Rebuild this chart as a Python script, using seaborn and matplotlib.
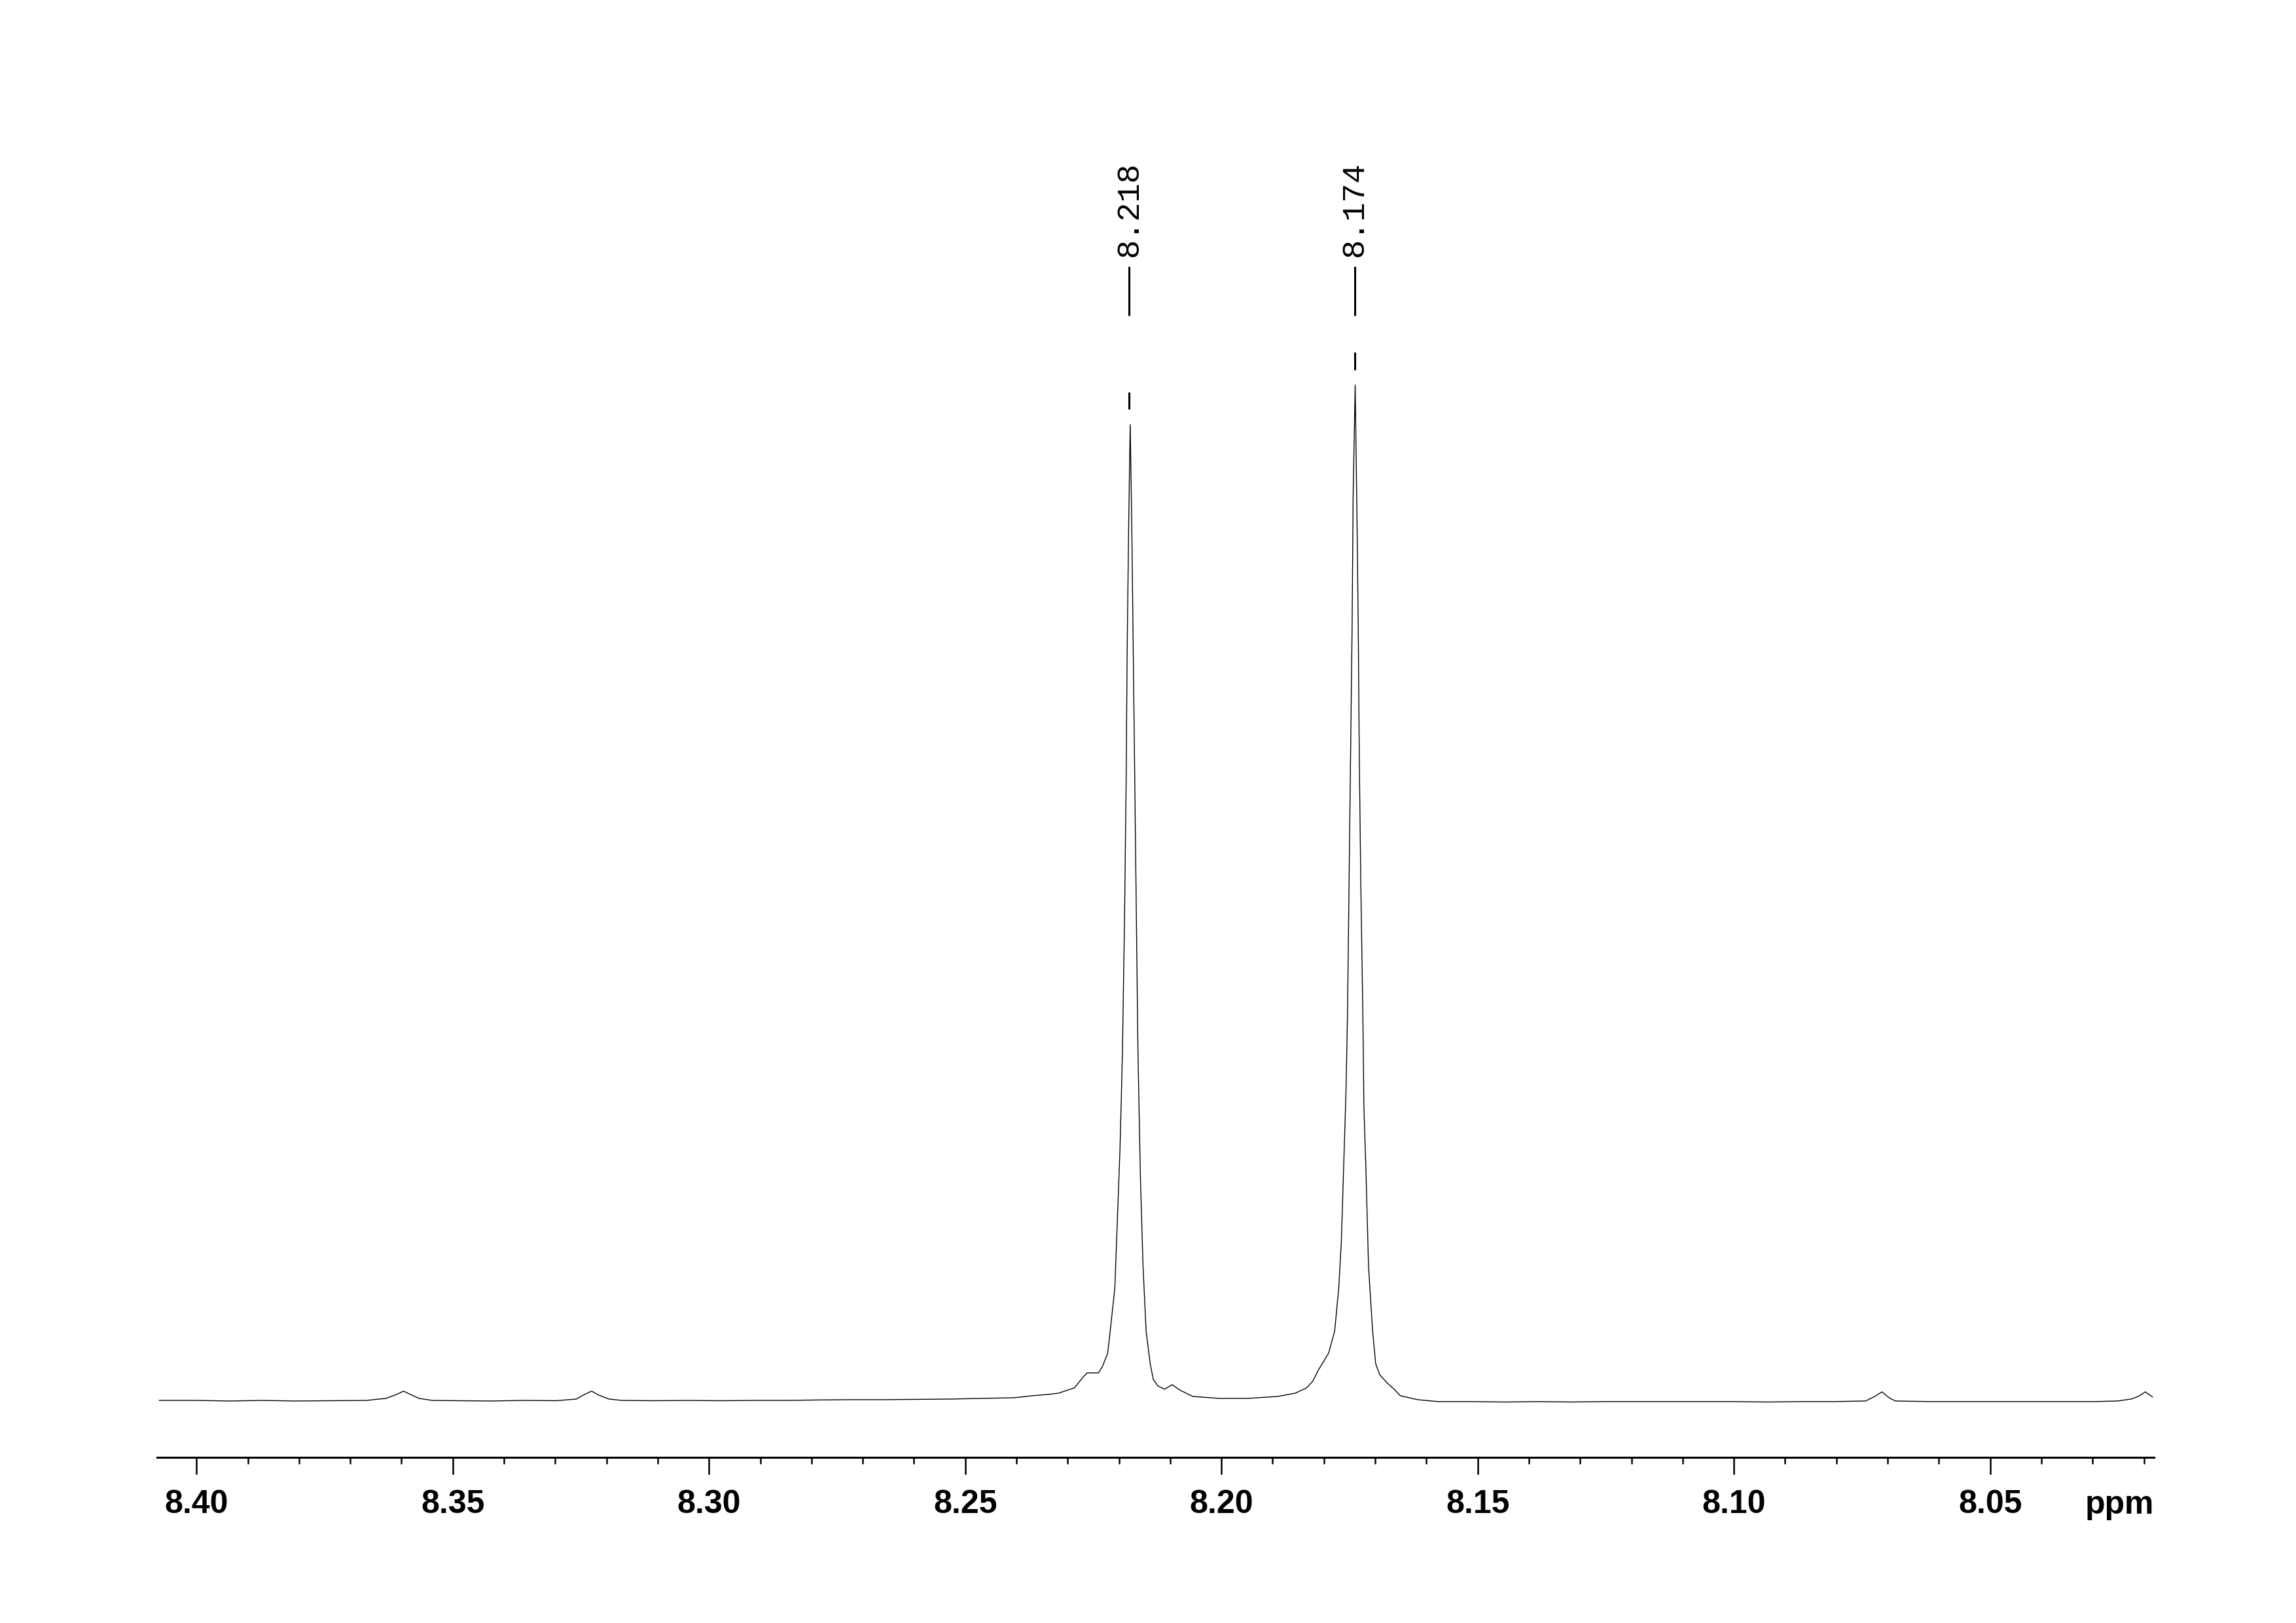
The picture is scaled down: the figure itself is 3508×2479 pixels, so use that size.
import numpy as np
import matplotlib
matplotlib.use("Agg")
import matplotlib.pyplot as plt
import seaborn as sns

# spectrum (ppm, relative intensity; tallest peak = 100)
ppm = [8.4073, 8.4000, 8.3936, 8.3872, 8.3808, 8.3745, 8.3668, 8.3630, 8.3610,
       8.3596, 8.3582, 8.3566, 8.3540, 8.3489, 8.3425, 8.3361, 8.3298, 8.3259,
       8.3243, 8.3229, 8.3215, 8.3195, 8.3170, 8.3106, 8.3042, 8.2978, 8.2914,
       8.2851, 8.2787, 8.2723, 8.2659, 8.2595, 8.2531, 8.2467, 8.2404, 8.2369,
       8.2340, 8.2318, 8.2287, 8.2269, 8.2262, 8.2240, 8.2232, 8.2222, 8.2217,
       8.2208, 8.2200, 8.2198, 8.2195, 8.2193, 8.2189, 8.2186, 8.2184, 8.2181,
       8.2178, 8.2175, 8.2172, 8.2169, 8.2166, 8.2163, 8.2161, 8.2158, 8.2153,
       8.2147, 8.2139, 8.2133, 8.2124, 8.2111, 8.2096, 8.2082, 8.2056, 8.2005,
       8.1948, 8.1890, 8.1856, 8.1834, 8.1822, 8.1811, 8.1791, 8.1779, 8.1771,
       8.1766, 8.1760, 8.1757, 8.1754, 8.1751, 8.1748, 8.1745, 8.1743, 8.1739,
       8.1736, 8.1733, 8.1731, 8.1728, 8.1724, 8.1722, 8.1718, 8.1713, 8.1705,
       8.1699, 8.1691, 8.1677, 8.1663, 8.1651, 8.1617, 8.1577, 8.1510, 8.1446,
       8.1382, 8.1318, 8.1254, 8.1190, 8.1126, 8.1063, 8.0999, 8.0935, 8.0871,
       8.0807, 8.0743, 8.0725, 8.0711, 8.0697, 8.0685, 8.0616, 8.0552, 8.0488,
       8.0424, 8.0360, 8.0296, 8.0252, 8.0225, 8.0211, 8.0197, 8.0183]
intensity = [0.06, 0.06, 0.00, 0.06, 0.00, 0.03, 0.06, 0.26, 0.64,
             0.97, 0.64, 0.26, 0.06, 0.03, 0.00, 0.06, 0.03, 0.19,
             0.64, 0.97, 0.58, 0.19, 0.06, 0.03, 0.06, 0.03, 0.06,
             0.06, 0.10, 0.13, 0.13, 0.16, 0.19, 0.26, 0.32, 0.52,
             0.64, 0.77, 1.29, 2.40, 2.77, 2.77, 3.41, 4.70, 6.89,
             11.15, 21.9, 24.7, 30.5, 34.8, 47.7, 60.6, 73.5, 86.3,
             96.1, 86.3, 73.5, 60.6, 47.7, 34.8, 29.4, 21.9, 13.3,
             6.89, 3.67, 2.13, 1.48, 1.16, 1.61, 1.10, 0.45, 0.26,
             0.26, 0.45, 0.77, 1.29, 1.93, 3.03, 4.70, 6.89, 11.15,
             15.7, 25.3, 30.3, 38.0, 50.8, 63.5, 76.3, 89.0, 100.0,
             89.0, 76.3, 63.5, 50.8, 38.0, 29.0, 22.7, 13.3, 6.89,
             3.67, 2.58, 1.80, 1.16, 0.52, 0.13, -0.06, -0.06, -0.10,
             -0.06, -0.10, -0.06, -0.06, -0.06, -0.06, -0.06, -0.10, -0.06,
             -0.06, 0.00, 0.45, 0.90, 0.32, 0.00, -0.06, -0.06, -0.06,
             -0.06, -0.06, -0.06, 0.00, 0.19, 0.45, 0.90, 0.39]

# peak picking labels
peak_ppm = [8.218, 8.174]
peak_labels = ["8.218", "8.174"]

major_ticks = [8.40, 8.35, 8.30, 8.25, 8.20, 8.15, 8.10, 8.05]
tick_labels = ["8.40", "8.35", "8.30", "8.25", "8.20", "8.15", "8.10", "8.05"]

sns.set_style("white")
plt.rcParams['font.family'] = ['Liberation Sans', 'DejaVu Sans']
plt.rcParams['text.color'] = 'black'
plt.rcParams['xtick.color'] = 'black'
plt.rcParams['xtick.labelcolor'] = 'black'

fig = plt.figure(figsize=(35.08, 24.79), dpi=100)
ax = fig.add_axes([0.0684, 0.1021, 0.8698, 0.8172])

sns.lineplot(x=ppm, y=intensity, ax=ax, color='black', linewidth=1.0,
             estimator=None, sort=False)

ax.set_xlim(8.4077, 8.0180)
ax.set_ylim(-5.54, 125.0)

# peak labels: text, connector and small dash above the peak top
ppm_arr = np.array(ppm)
int_arr = np.array(intensity)
for p, lab in zip(peak_ppm, peak_labels):
    top = int_arr[np.abs(ppm_arr - p) < 0.002].max()
    ax.plot([p, p], [106.83, 111.66], color='black', lw=2.2, solid_capstyle='butt')
    ax.plot([p, p], [top + 1.5, top + 3.2], color='black', lw=2.2, solid_capstyle='butt')
    ax.text(p, 112.6, lab, rotation=90, ha='center', va='bottom', color='black',
            fontsize=35, family=['Liberation Mono', 'DejaVu Sans Mono'])

# axes styling
for s in ['left', 'top', 'right']:
    ax.spines[s].set_visible(False)
ax.spines['bottom'].set_linewidth(2.2)
ax.spines['bottom'].set_color('black')
ax.set_yticks([])
ax.set_xticks(major_ticks)
ax.set_xticklabels(tick_labels, fontsize=36, fontweight='bold', color='black')
ax.set_xticks(np.arange(8.40, 8.015, -0.01), minor=True)
ax.tick_params(axis='x', which='major', direction='out', length=19, width=1.8,
               pad=16, color='black', bottom=True)
ax.tick_params(axis='x', which='minor', direction='out', length=7, width=1.8,
               color='black', bottom=True)
ax.set_xlabel('')
ax.set_ylabel('')

ax.text(1.0, -0.0425, 'ppm', transform=ax.transAxes, ha='right',
        va='baseline', fontsize=36, fontweight='bold', color='black')

fig.savefig('out.png', dpi=100, facecolor='white')
